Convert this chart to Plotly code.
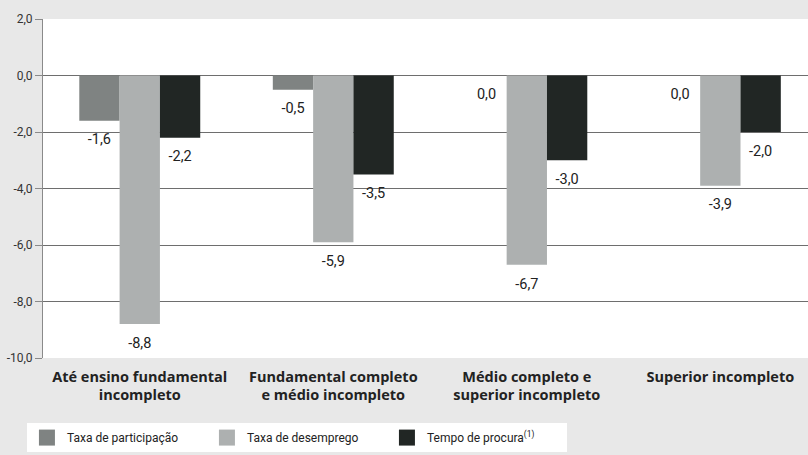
import plotly.graph_objects as go

categories = ["<b>Até ensino fundamental<br>incompleto</b>",
              "<b>Fundamental completo<br>e médio incompleto</b>",
              "<b>Médio completo e<br>superior incompleto</b>",
              "<b>Superior incompleto</b>"]
participacao = [-1.6, -0.5, 0.0, 0.0]
desemprego = [-8.8, -5.9, -6.7, -3.9]
procura = [-2.2, -3.5, -3.0, -2.0]
tick_vals = [2, 0, -2, -4, -6, -8, -10]
tick_text = ["2,0", "0,0", "-2,0", "-4,0", "-6,0", "-8,0", "-10,0"]

def fmt(v):
    return f"{v:.1f}".replace(".", ",")

series = [
    ("Taxa de participação", participacao, "#7f8382"),
    ("Taxa de desemprego", desemprego, "#adb0b0"),
    ("Tempo de procura<sup>(1)</sup>", procura, "#212624"),
]

fig = go.Figure()
for i, (name, vals, col) in enumerate(series):
    fig.add_trace(go.Bar(
        x=categories, y=vals, name=name, marker_color=col,
        marker_line_width=0, offsetgroup=str(i), showlegend=False,
        legendgroup=str(i),
    ))
for i, (name, vals, col) in enumerate(series):
    fig.add_trace(go.Scatter(
        x=categories, y=vals, mode="markers+text", showlegend=False,
        offsetgroup=str(i), hoverinfo="skip",
        marker=dict(size=19, opacity=0),
        text=[fmt(v) for v in vals], textposition="bottom center",
        textfont=dict(size=14.5, color="#222222", family="Roboto"),
        cliponaxis=False,
    ))
# legend entries with larger square swatches
for i, (name, vals, col) in enumerate(series):
    fig.add_trace(go.Scatter(
        x=[None], y=[None], mode="markers", name=name, legendgroup=str(i),
        marker=dict(symbol="square", size=18, color=col, line_width=0),
        showlegend=True,
    ))

fig.update_layout(
    width=808, height=455,
    paper_bgcolor="#e8e8e8", plot_bgcolor="#ffffff",
    margin=dict(l=43, r=0, t=19, b=97),
    barmode="group", bargap=0.375, bargroupgap=0,
    scattermode="group", scattergap=0.375,
    font=dict(family="Open Sans", color="#222222"),
    showlegend=True,
    legend=dict(orientation="h", x=-0.021, y=-0.192, xanchor="left", yanchor="top",
                bgcolor="#ffffff", font=dict(size=12, color="#222222", family="Roboto"),
                itemwidth=30, entrywidth=135, traceorder="normal", itemsizing="trace"),
)
fig.update_yaxes(range=[-10, 2], tickvals=tick_vals, ticktext=tick_text,
                 automargin=False,
                 showgrid=True, gridcolor="#6e6e6e", gridwidth=1,
                 zeroline=True, zerolinecolor="#6e6e6e", zerolinewidth=1,
                 showline=True, linecolor="#8a8a8a", linewidth=1,
                 ticks="outside", ticklen=7, tickcolor="#8a8a8a",
                 tickfont=dict(size=12, color="#333333", family="Roboto"))
fig.update_xaxes(range=[-0.5, 3.453], automargin=False,
                 tickfont=dict(size=14.5, color="#222222"), ticks="", showline=False,
                 tickangle=0, ticklabelstandoff=8)

fig.write_html("out.html", config={"displayModeBar": False},
               post_script="document.body.style.margin='0';document.body.style.padding='0';")
